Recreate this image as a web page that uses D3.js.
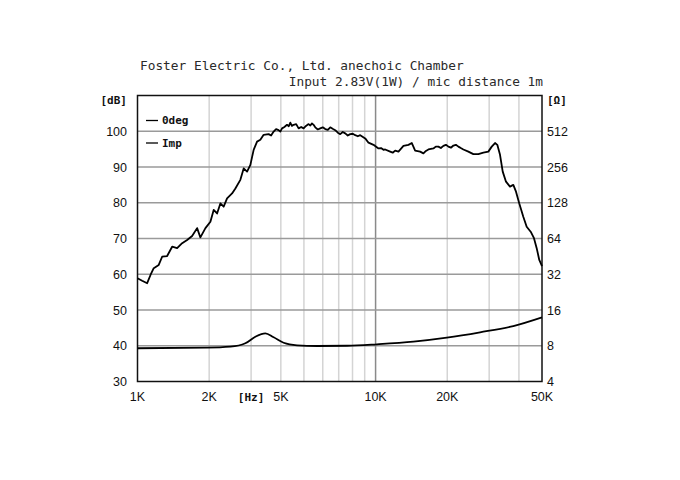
<!DOCTYPE html>
<html>
<head>
<meta charset="utf-8">
<script src="https://cdn.jsdelivr.net/npm/d3@7"></script>
<style>
  html, body { margin: 0; padding: 0; background: #fff; }
  svg { display: block; }
</style>
</head>
<body>
<svg id="chart" width="680" height="480"></svg>
<script>
// ---------- data ----------
const titleLines = ["Foster Electric Co., Ltd. anechoic Chamber", "Input 2.83V(1W) / mic distance 1m"];
const seriesNames = ["0deg", "Imp"];

// frequency response (Hz, dB)
const splFreq = [1000,1046,1098,1134,1170,1228,1269,1332,1398,1467,1540,1616,1696,1780,1837,1929,2024,2089,2159,2229,2301,2378,2496,2577,2704,2792,2886,2979,3075,3178,3281,3387,3554,3640,3731,3820,3914,3980,4046,4140,4246,4320,4384,4450,4525,4640,4750,4870,4985,5100,5230,5320,5406,5490,5580,5720,5856,6000,6147,6300,6451,6600,6768,6940,7104,7280,7456,7640,7826,8020,8214,8420,8620,9046,9337,9800,10285,10540,10793,10970,11515,11800,12085,12478,13093,13740,14199,14660,15385,15882,16270,16670,17497,17900,18356,18800,19265,19740,20225,20720,21227,21740,22274,22800,23375,24530,25745,27017,28355,29760,30749,31746,32456,33317,34198,35300,36691,37887,38888,40140,41727,43117,44815,46273,47494,48702,50000];
const splDb = [58.9,58.2,57.5,59.8,61.7,62.6,64.9,65.1,67.7,67.3,68.7,69.6,70.7,72.9,70.3,72.9,74.7,78.0,77.0,79.8,78.9,81.2,82.6,84.0,86.4,89.6,88.7,90.6,94.8,97.1,97.6,99.0,99.2,98.8,99.9,100.6,100.3,99.9,100.8,101.2,101.8,101.4,102.4,101.5,101.8,102.0,100.8,101.2,100.8,101.5,102.0,101.6,102.2,101.8,101.1,100.5,100.8,101.1,100.6,100.4,101.1,100.7,100.3,99.6,99.2,99.8,99.4,98.8,99.2,99.3,98.9,98.6,98.9,98.0,96.8,96.2,95.2,95.3,94.8,94.9,94.3,94.0,94.6,94.3,95.9,96.2,96.7,94.6,94.3,93.8,94.5,94.9,95.2,95.7,95.7,95.3,95.9,96.2,95.7,95.4,96.0,96.2,95.7,95.3,94.9,94.3,93.6,93.6,94.0,94.3,95.7,96.7,96.2,93.4,88.7,85.9,84.5,85.0,83.1,79.8,76.1,73.3,71.9,70.1,67.3,64.0,62.3];

// impedance (Hz, ohm)
const impFreq = [1000,1960,2455,2838,3126,3443,3731,4109,4676,5673,7580,10127,14421,19909,27470,37887,50000];
const impOhm = [7.62,7.70,7.85,8.39,9.53,10.18,9.42,8.48,8.07,7.96,8.0,8.23,8.65,9.35,10.38,11.73,13.89];

// axes
const xGrid = [2000,3000,4000,5000,6000,7000,8000,9000,10000,20000,30000,40000];
const xTickPos = [1000,2000,3000,4000,10000,20000,50000];
const xTickLabels = ["1K","2K","[Hz]","5K","10K","20K","50K"];
const dbTicks = [30,40,50,60,70,80,90,100];
const ohmTicks = [4,8,16,32,64,128,256,512];

// ---------- drawing ----------
const svg = d3.select("#chart");
const L = 137.5, R = 542, T = 95.5, B = 381.5;

const x = d3.scaleLog().domain([1000, 50000]).range([L, R]);
const yDb = d3.scaleLinear().domain([30, 110]).range([B, T]);
const yOhm = d3.scaleLog().base(2).domain([4, 1024]).range([B, T]);

const sans = "'Liberation Sans', Arial, sans-serif";
const mono = "'DejaVu Sans Mono', monospace";

// titles
svg.append("text").attr("x", 140).attr("y", 70)
  .attr("font-family", mono).attr("font-size", 12.8).attr("fill", "#2a2a2a")
  .text(titleLines[0]);
svg.append("text").attr("x", 543).attr("y", 86).attr("text-anchor", "end")
  .attr("font-family", mono).attr("font-size", 12.8).attr("fill", "#2a2a2a")
  .text(titleLines[1]);

// vertical grid
svg.append("g").selectAll("line").data(xGrid).join("line")
  .attr("x1", d => x(d)).attr("x2", d => x(d))
  .attr("y1", T).attr("y2", B)
  .attr("stroke", d => d === 10000 ? "#8a8a8a" : "#d4d4d4")
  .attr("stroke-width", 1.5);

// horizontal grid
svg.append("g").selectAll("line").data(dbTicks.filter(d => d > 30)).join("line")
  .attr("x1", L).attr("x2", R)
  .attr("y1", d => yDb(d)).attr("y2", d => yDb(d))
  .attr("stroke", "#9a9a9a").attr("stroke-width", 1.5);

// frame
svg.append("rect").attr("x", L).attr("y", T).attr("width", R - L).attr("height", B - T)
  .attr("fill", "none").attr("stroke", "#111").attr("stroke-width", 1.5);

// left axis labels
const gL = svg.append("g").attr("font-family", sans).attr("font-size", 12.5).attr("fill", "#111");
gL.selectAll("text").data(dbTicks).join("text")
  .attr("x", 127).attr("y", d => yDb(d)).attr("dy", "0.36em").attr("text-anchor", "end")
  .text(d => d);
gL.append("text").attr("x", 127).attr("y", yDb(110) + 5).attr("dy", "0.36em")
  .attr("text-anchor", "end").attr("font-family", mono).attr("font-size", 11).attr("font-weight", "bold").text("[dB]");

// right axis labels
const gR = svg.append("g").attr("font-family", sans).attr("font-size", 12.5).attr("fill", "#111");
gR.selectAll("text").data(ohmTicks).join("text")
  .attr("x", 547).attr("y", d => yOhm(d)).attr("dy", "0.36em")
  .text(d => d);
gR.append("text").attr("x", 547).attr("y", yOhm(1024) + 5).attr("dy", "0.36em")
  .attr("font-family", mono).attr("font-size", 11).attr("font-weight", "bold").text("[Ω]");

// bottom labels
svg.append("g").attr("fill", "#111")
  .selectAll("text").data(xTickPos).join("text")
  .attr("x", d => x(d)).attr("y", 401).attr("text-anchor", "middle")
  .attr("font-family", (d, i) => xTickLabels[i] === "[Hz]" ? mono : sans)
  .attr("font-weight", (d, i) => xTickLabels[i] === "[Hz]" ? "bold" : null)
  .attr("font-size", (d, i) => xTickLabels[i] === "[Hz]" ? 11 : 12.5)
  .text((d, i) => xTickLabels[i]);

// curves
const spl = splFreq.map((f, i) => [f, splDb[i]]);
const imp = impFreq.map((f, i) => [f, impOhm[i]]);

svg.append("path").datum(spl)
  .attr("d", d3.line().x(d => x(d[0])).y(d => yDb(d[1])).curve(d3.curveLinear))
  .attr("fill", "none").attr("stroke", "#000").attr("stroke-width", 1.8)
  .attr("stroke-linejoin", "round");

svg.append("path").datum(imp)
  .attr("d", d3.line().x(d => x(d[0])).y(d => yOhm(d[1])).curve(d3.curveMonotoneX))
  .attr("fill", "none").attr("stroke", "#000").attr("stroke-width", 1.8);

// legend
const legY = [120.5, 143];
const leg = svg.append("g");
seriesNames.forEach((n, i) => {
  leg.append("line").attr("x1", 146).attr("x2", 158).attr("y1", legY[i]).attr("y2", legY[i])
    .attr("stroke", "#000").attr("stroke-width", 1.3);
  leg.append("text").attr("x", 162).attr("y", legY[i]).attr("dy", "0.36em")
    .attr("font-family", mono).attr("font-size", 11).attr("font-weight", "bold").attr("fill", "#111")
    .text(n);
});
</script>
</body>
</html>
